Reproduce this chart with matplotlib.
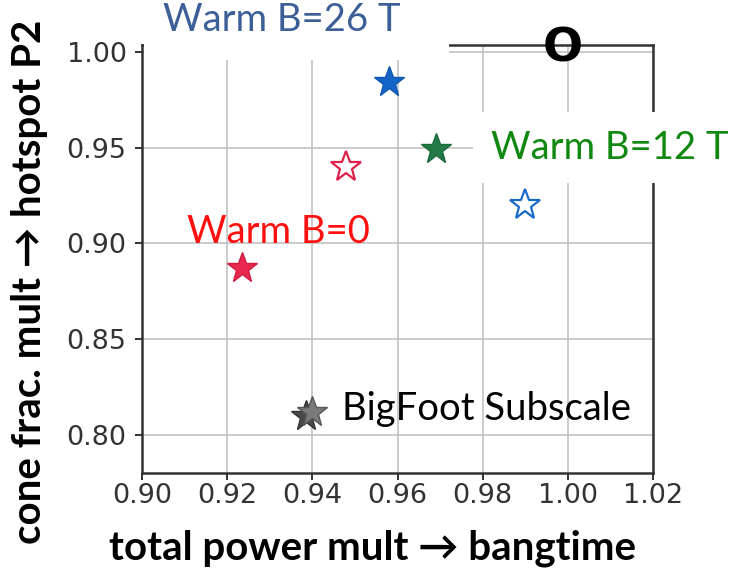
import matplotlib.pyplot as plt
from matplotlib.patches import Rectangle

# marker positions (total power mult, cone frac. mult)
warm_b0 = (0.9235, 0.887)
warm_b0_open = (0.948, 0.940)
warm_b12 = (0.969, 0.949)
warm_b26 = (0.958, 0.984)
warm_b26_open = (0.990, 0.920)
bigfoot_x = [0.9385, 0.9400]
bigfoot_y = [0.8095, 0.8120]

xticks = [0.90, 0.92, 0.94, 0.96, 0.98, 1.00, 1.02]
yticks = [0.80, 0.85, 0.90, 0.95, 1.00]

label_font = ["Lato", "DejaVu Sans"]

fig = plt.figure(figsize=(7.43, 5.76), dpi=100)
ax = fig.add_axes([0.191, 0.179, 0.688, 0.743])

ax.set_xlim(0.90, 1.02)
ax.set_ylim(0.78, 1.0036)
ax.set_xticks(xticks)
ax.set_yticks(yticks)
ax.set_xticklabels([f"{v:.2f}" for v in xticks])
ax.set_yticklabels([f"{v:.2f}" for v in yticks])
ax.tick_params(labelsize=19.5, colors="#333333", length=5, width=1.4)
ax.tick_params(axis="x", pad=2)
ax.tick_params(axis="y", pad=6)
ax.grid(True, color="#bdbdbd", linewidth=1.1)
ax.set_axisbelow(True)
for s in ax.spines.values():
    s.set_color("#333333")
    s.set_linewidth(1.8)

# blank strip at the top-left of the frame, under the 26 T label
ax.add_patch(Rectangle((0.004, 0.965), 0.596, 0.2, transform=ax.transAxes,
                       facecolor="white", edgecolor="none", zorder=3, clip_on=False))

ms = 23
ax.plot(*warm_b0, marker="*", ms=ms, color="#e8284e", mec="#d01a40", ls="none", zorder=4)
ax.plot(*warm_b0_open, marker="*", ms=ms, mfc="white", mec="#e0204a", mew=1.6, ls="none", zorder=4)
ax.plot(*warm_b12, marker="*", ms=ms, color="#237a46", mec="#1a6a3a", ls="none", zorder=4)
ax.plot(*warm_b26, marker="*", ms=ms, color="#1565c8", mec="#0f57b0", ls="none", zorder=4)
ax.plot(*warm_b26_open, marker="*", ms=ms, mfc="white", mec="#1a6ac8", mew=1.6, ls="none", zorder=4)
ax.plot(bigfoot_x[0], bigfoot_y[0], marker="*", ms=ms, color="#4a4a4a", mec="#333333", ls="none", zorder=4)
ax.plot(bigfoot_x[1], bigfoot_y[1], marker="*", ms=ms, color="#7a7a7a", mec="#555555", ls="none", zorder=4)

ax.text(0.905, 1.0165, "Warm B=26 T", fontsize=27.5, color="#3b5f96", family=label_font,
        va="center", ha="left", clip_on=False, zorder=5)
ax.text(0.982, 0.950, "Warm B=12 T", fontsize=27.5, color="#118811", family=label_font,
        va="center", ha="left", clip_on=False, zorder=5,
        bbox=dict(facecolor="white", edgecolor="none", pad=13))
ax.text(0.9105, 0.9057, "Warm B=0", fontsize=27.5, color="#ff1010", family=label_font,
        va="center", ha="left", clip_on=False, zorder=5)
ax.text(0.947, 0.8135, "BigFoot Subscale", fontsize=27.5, color="black", family=label_font,
        va="center", ha="left", clip_on=False, zorder=5)
ax.text(0.9987, 1.0015, "O", fontsize=34, fontweight="bold", color="black",
        va="center", ha="center", clip_on=False, zorder=5)

fig.text(0.501, 0.049, "total power mult \u2192 bangtime", fontsize=29, fontweight="bold",
         family=label_font, ha="center", va="center")
fig.text(0.040, 0.51, "cone frac. mult \u2192 hotspot P2", fontsize=29, fontweight="bold",
         family=label_font, ha="center", va="center", rotation=90)

fig.savefig("out.png", dpi=100)
